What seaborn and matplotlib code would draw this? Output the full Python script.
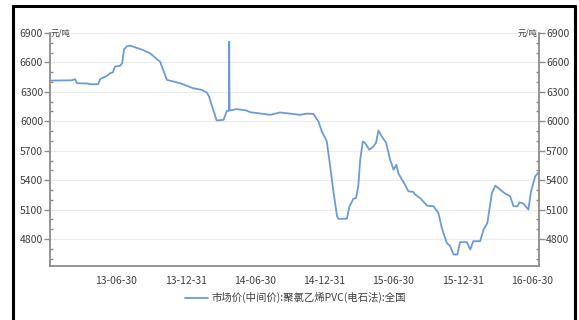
import matplotlib
matplotlib.use("Agg")
import matplotlib.pyplot as plt
import matplotlib.dates as mdates
from matplotlib.ticker import FixedLocator, FuncFormatter
from matplotlib.lines import Line2D
import seaborn as sns
import pandas as pd

# PVC (calcium carbide process) national mid-market price, yuan/ton
dates = [
    "2013-01-07", "2013-03-06", "2013-03-14", "2013-03-19", "2013-04-17", "2013-04-22",
    "2013-05-14", "2013-05-19", "2013-06-06", "2013-06-14", "2013-06-22", "2013-06-27",
    "2013-07-11", "2013-07-16", "2013-07-21", "2013-07-29", "2013-08-06", "2013-08-14",
    "2013-09-09", "2013-09-28", "2013-10-16", "2013-10-24", "2013-11-11", "2013-12-16",
    "2014-01-19", "2014-02-11", "2014-02-24", "2014-03-02", "2014-03-22", "2014-04-09",
    "2014-04-18", "2014-04-23", "2014-04-24", "2014-04-25", "2014-05-14", "2014-06-09",
    "2014-06-18", "2014-08-10", "2014-09-05", "2014-10-28", "2014-11-14", "2014-12-02",
    "2014-12-15", "2014-12-24", "2015-01-02", "2015-01-06", "2015-01-15", "2015-01-24",
    "2015-02-02", "2015-02-06", "2015-02-28", "2015-03-07", "2015-03-17", "2015-03-24",
    "2015-03-30", "2015-04-04", "2015-04-11", "2015-04-17", "2015-04-28", "2015-05-09",
    "2015-05-16", "2015-05-22", "2015-05-31", "2015-06-11", "2015-06-22", "2015-07-01",
    "2015-07-08", "2015-07-14", "2015-07-31", "2015-08-09", "2015-08-22", "2015-08-27",
    "2015-09-09", "2015-09-27", "2015-10-14", "2015-10-27", "2015-11-05", "2015-11-18",
    "2015-11-27", "2015-12-06", "2015-12-16", "2015-12-23", "2016-01-10", "2016-01-19",
    "2016-01-27", "2016-02-14", "2016-02-23", "2016-03-04", "2016-03-16", "2016-03-25",
    "2016-04-07", "2016-04-20", "2016-05-03", "2016-05-12", "2016-05-22", "2016-05-28",
    "2016-06-07", "2016-06-20", "2016-06-27", "2016-07-08", "2016-07-17",
]
prices = [
    6415, 6418, 6429, 6388, 6385, 6378,
    6378, 6430, 6463, 6490, 6500, 6557,
    6567, 6592, 6734, 6765, 6771, 6761,
    6727, 6693, 6632, 6608, 6422, 6388,
    6337, 6320, 6293, 6252, 6008, 6015,
    6107, 6107, 6812, 6110, 6124, 6110,
    6093, 6066, 6090, 6066, 6078, 6075,
    5998, 5896, 5829, 5795, 5540, 5270,
    5032, 5005, 5008, 5134, 5209, 5218,
    5337, 5608, 5795, 5778, 5710, 5744,
    5784, 5906, 5845, 5784, 5608, 5506,
    5557, 5466, 5354, 5286, 5280, 5252,
    5218, 5140, 5134, 5066, 4914, 4761,
    4727, 4642, 4642, 4768, 4768, 4693,
    4778, 4778, 4896, 4964, 5270, 5344,
    5303, 5263, 5236, 5134, 5134, 5174,
    5161, 5100, 5286, 5439, 5480,
]
series_name = "市场价(中间价):聚氯乙烯PVC(电石法):全国"
unit_label = "元/吨"
y_major = [4800, 5100, 5400, 5700, 6000, 6300, 6600, 6900]

df = pd.DataFrame({"date": pd.to_datetime(dates), "price": prices})

sns.set_style("white")
plt.rcParams["font.family"] = ["Noto Sans CJK SC", "DejaVu Sans"]

line_color = "#6b9bd8"
axis_gray = "#8c8c8c"
text_color = "#404040"

fig = plt.figure(figsize=(5.79, 3.20), dpi=100)
ax = fig.add_axes([50 / 579, 54 / 320, 489 / 579, 233 / 320])

sns.lineplot(data=df, x="date", y="price", ax=ax, color=line_color,
             linewidth=1.3, label=series_name, legend=False)

ax.set_xlim(pd.Timestamp("2013-01-07"), pd.Timestamp("2016-07-18"))
ax.set_ylim(4525, 6900)
ax.set_xlabel("")
ax.set_ylabel("")

# quarter-end major ticks (labels at half-years), month-end minor ticks
q_ends = pd.date_range("2013-01-01", "2016-12-31", freq="QE")
m_ends = pd.date_range("2013-01-01", "2016-12-31", freq="ME")
ax.xaxis.set_major_locator(FixedLocator(mdates.date2num(q_ends)))
ax.xaxis.set_minor_locator(FixedLocator(mdates.date2num(m_ends)))


def fmt_date(v, pos):
    d = mdates.num2date(v)
    return d.strftime("%y-%m-%d") if d.month in (6, 12) else ""


ax.xaxis.set_major_formatter(FuncFormatter(fmt_date))

ax.yaxis.set_major_locator(FixedLocator(y_major))
ax.yaxis.set_minor_locator(FixedLocator(list(range(4600, 6900, 100))))
ax.grid(axis="y", which="major", color="#ececec", linewidth=0.8)

for side in ("top", "right"):
    ax.spines[side].set_visible(False)
for side in ("left", "bottom"):
    ax.spines[side].set_color(axis_gray)
    ax.spines[side].set_linewidth(1.3)

ax.tick_params(axis="x", which="major", direction="out", length=5, width=1,
               color=axis_gray, labelsize=7.5, labelcolor=text_color, pad=2)
ax.tick_params(axis="x", which="minor", direction="out", length=2.5, width=1,
               color=axis_gray)
ax.tick_params(axis="y", which="major", direction="out", length=4, width=1,
               color=axis_gray, labelsize=7.5, labelcolor=text_color, pad=1)
ax.tick_params(axis="y", which="minor", direction="in", length=2.5, width=1,
               color=axis_gray)

# mirrored value axis on the right
ax2 = ax.twinx()
ax2.set_ylim(ax.get_ylim())
ax2.yaxis.set_major_locator(FixedLocator(y_major))
ax2.yaxis.set_minor_locator(FixedLocator(list(range(4600, 6900, 100))))
for side in ("top", "left", "bottom"):
    ax2.spines[side].set_visible(False)
ax2.spines["right"].set_color(axis_gray)
ax2.spines["right"].set_linewidth(1.3)
ax2.tick_params(axis="y", which="major", direction="out", length=4, width=1,
                color=axis_gray, labelsize=7.5, labelcolor=text_color, pad=1)
ax2.tick_params(axis="y", which="minor", direction="in", length=2.5, width=1,
                color=axis_gray)

# unit labels at the top of both value axes
ax.text(0.002, 1.0, unit_label, transform=ax.transAxes, ha="left", va="center",
        fontsize=6, color=text_color)
ax.text(0.998, 1.0, unit_label, transform=ax.transAxes, ha="right", va="center",
        fontsize=6, color=text_color)

handle = Line2D([], [], color=line_color, linewidth=1.3)
fig.legend([handle], [series_name], loc="center", bbox_to_anchor=(0.51, 0.069),
           frameon=False, fontsize=7.5, handlelength=2.2, handletextpad=0.3,
           labelcolor=text_color)

# outer frame (top, left, right)
frame_kw = dict(color="black", linewidth=2.2, transform=fig.transFigure)
fig.add_artist(Line2D([12.5 / 579, 575 / 579], [1 - 5.5 / 320, 1 - 5.5 / 320], **frame_kw))
fig.add_artist(Line2D([12.5 / 579, 12.5 / 579], [0, 1 - 5.5 / 320], **frame_kw))
fig.add_artist(Line2D([575 / 579, 575 / 579], [0, 1 - 5.5 / 320], **frame_kw))

fig.savefig("out.png", dpi=100)
